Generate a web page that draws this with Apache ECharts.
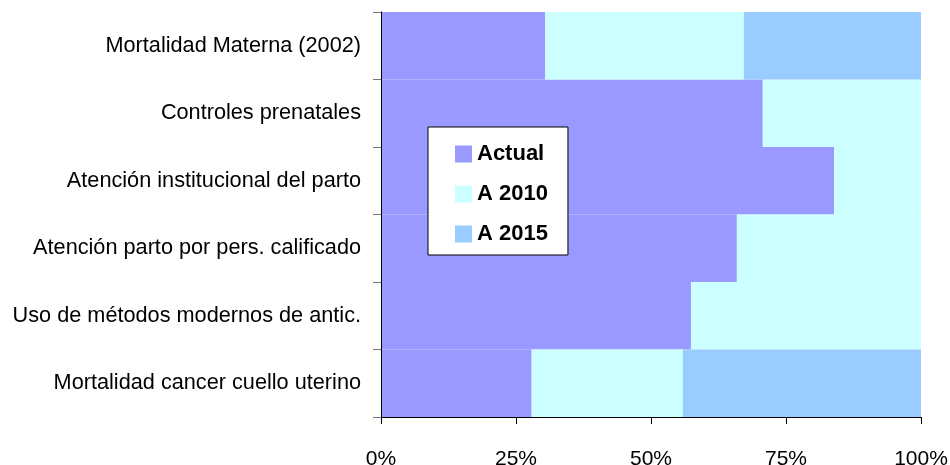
<!DOCTYPE html>
<html><head><meta charset="utf-8">
<script src="https://cdn.jsdelivr.net/npm/echarts@6/dist/echarts.min.js"></script>
<style>html,body{margin:0;padding:0;background:#fff}#c{width:950px;height:465px}</style>
</head><body><div id="c"></div>
<script>
const categories = [
  'Mortalidad Materna (2002)',
  'Controles prenatales',
  'Atención institucional del parto',
  'Atención parto por pers. calificado',
  'Uso de métodos modernos de antic.',
  'Mortalidad cancer cuello uterino'
];
const actual = [30.4, 70.7, 83.9, 65.9, 57.4, 27.9];
const a2010 = [36.8, 29.3, 16.1, 34.1, 42.6, 28.0];
const a2015 = [32.8, 0, 0, 0, 0, 44.1];
const xTicks = ['0%', '25%', '50%', '75%', '100%'];

const chart = echarts.init(document.getElementById('c'));
const font = 'Liberation Sans, Arial, sans-serif';
const colors = ['#9999FF', '#CCFFFF', '#99CCFF'];
const nz = arr => arr.map(v => (v > 0 ? v : '-'));
const style = c => ({ color: c, borderColor: c, borderWidth: 2 });
chart.setOption({
  animation: false,
  grid: { left: 381, right: 29, top: 12, bottom: 48, containLabel: false, outerBoundsMode: 'none' },
  legend: {
    orient: 'vertical', left: 428, top: 127,
    padding: [16, 20, 10, 27],
    itemGap: 18, itemWidth: 17, itemHeight: 17,
    backgroundColor: '#fff', borderColor: '#000', borderWidth: 1,
    icon: 'rect',
    itemStyle: { borderWidth: 0 },
    textStyle: { fontFamily: font, fontSize: 22, lineHeight: 22, fontWeight: 'bold', color: '#000', padding: [0, 0, 0, 0] },
    data: ['Actual', 'A 2010', 'A 2015']
  },
  xAxis: {
    type: 'value', min: 0, max: 100, interval: 25,
    axisLine: { show: true, lineStyle: { color: '#000', width: 1 } },
    axisTick: { show: true, length: 7, lineStyle: { color: '#000' } },
    splitLine: { show: false },
    z: 5,
    axisLabel: {
      fontFamily: font, fontSize: 21, color: '#000', margin: 32,
      formatter: v => xTicks[Math.round(v / 25)]
    }
  },
  yAxis: {
    type: 'category', data: categories, inverse: true,
    z: 5,
    axisLine: { show: true, lineStyle: { color: '#000', width: 1 } },
    axisTick: { show: true, length: 8, alignWithLabel: false, lineStyle: { color: '#777' } },
    axisLabel: { fontFamily: font, fontSize: 21.7, color: '#000', margin: 20 }
  },
  series: [
    { name: 'Actual', type: 'bar', stack: 't', data: nz(actual), barCategoryGap: 0, barWidth: '100%', itemStyle: style(colors[0]) },
    { name: 'A 2010', type: 'bar', stack: 't', data: nz(a2010), barWidth: '100%', itemStyle: style(colors[1]) },
    { name: 'A 2015', type: 'bar', stack: 't', data: nz(a2015), barWidth: '100%', itemStyle: style(colors[2]) }
  ]
});
</script></body></html>
